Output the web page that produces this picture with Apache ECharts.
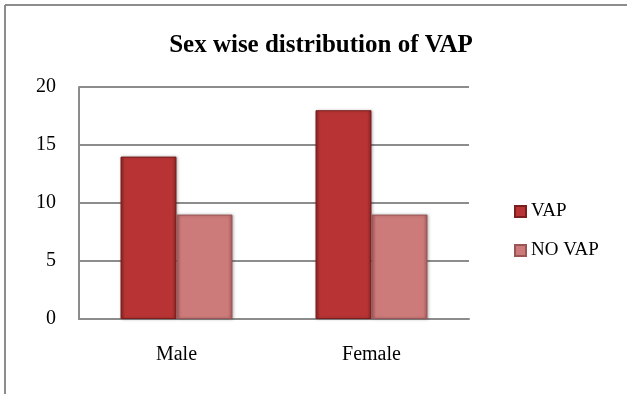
<!DOCTYPE html>
<html>
<head>
<meta charset="utf-8">
<script src="https://cdn.jsdelivr.net/npm/echarts@6/dist/echarts.min.js"></script>
<style>
  html, body { margin: 0; padding: 0; background: #fff; }
  #main { width: 627px; height: 394px; }
</style>
</head>
<body>
<div id="main"></div>
<script>
// 数据
var categories = ['Male', 'Female'];
var vapData = [14, 18];
var noVapData = [9, 9];
var yTicks = { min: 0, max: 20, interval: 5 };

var serif = '"Liberation Serif", "Times New Roman", serif';

// bar fill: flat face, darker thin edges
function barFill(edge, mid) {
  return new echarts.graphic.LinearGradient(0, 0, 1, 0, [
    { offset: 0, color: edge },
    { offset: 0.08, color: mid },
    { offset: 0.92, color: mid },
    { offset: 1, color: edge }
  ]);
}

var myChart = echarts.init(document.getElementById('main'));
var option = {
  backgroundColor: '#fff',
  animation: false,
  title: {
    text: 'Sex wise distribution of VAP',
    left: 316,
    textAlign: 'center',
    top: 28,
    textStyle: { fontFamily: serif, fontWeight: 'bold', fontSize: 25, color: '#000' }
  },
  // chart area frame (only left and top edges are visible)
  graphic: [
    { type: 'line', shape: { x1: 5, y1: 5, x2: 627, y2: 5 }, style: { stroke: '#8c8c8c', lineWidth: 2 }, silent: true },
    { type: 'line', shape: { x1: 5, y1: 5, x2: 5, y2: 394 }, style: { stroke: '#8c8c8c', lineWidth: 2 }, silent: true }
  ],
  grid: { left: 79, top: 87, right: 158, bottom: 75 },
  legend: {
    orient: 'vertical',
    left: 509,
    top: 197,
    icon: 'rect',
    itemWidth: 11,
    itemHeight: 11,
    itemGap: 20,
    textStyle: { fontFamily: serif, fontSize: 19, color: '#000' },
    data: ['VAP', 'NO VAP']
  },
  xAxis: {
    type: 'category',
    data: categories,
    axisLine: { lineStyle: { color: '#8c8c8c', width: 2 } },
    axisTick: { show: false },
    axisLabel: { fontFamily: serif, fontSize: 20, color: '#000', margin: 26 }
  },
  yAxis: {
    type: 'value',
    min: yTicks.min,
    max: yTicks.max,
    interval: yTicks.interval,
    axisLine: { show: true, lineStyle: { color: '#8c8c8c', width: 2 } },
    axisTick: { show: false },
    axisLabel: { fontFamily: serif, fontSize: 20, color: '#000', margin: 23 },
    splitLine: { lineStyle: { color: '#8c8c8c', width: 2 } }
  },
  series: [
    {
      name: 'VAP',
      type: 'bar',
      data: vapData,
      barWidth: 56,
      barGap: '0%',
      itemStyle: {
        color: barFill('#8a2424', '#b83434'),
        borderColor: '#7a1e1e',
        borderWidth: 1,
        shadowColor: 'rgba(0,0,0,0.25)',
        shadowBlur: 3,
        shadowOffsetX: 1
      }
    },
    {
      name: 'NO VAP',
      type: 'bar',
      data: noVapData,
      barWidth: 56,
      itemStyle: {
        color: barFill('#a45c5c', '#cd7a7a'),
        borderColor: '#9a5656',
        borderWidth: 1,
        shadowColor: 'rgba(0,0,0,0.25)',
        shadowBlur: 3,
        shadowOffsetX: 1
      }
    }
  ]
};
myChart.setOption(option);
</script>
</body>
</html>
